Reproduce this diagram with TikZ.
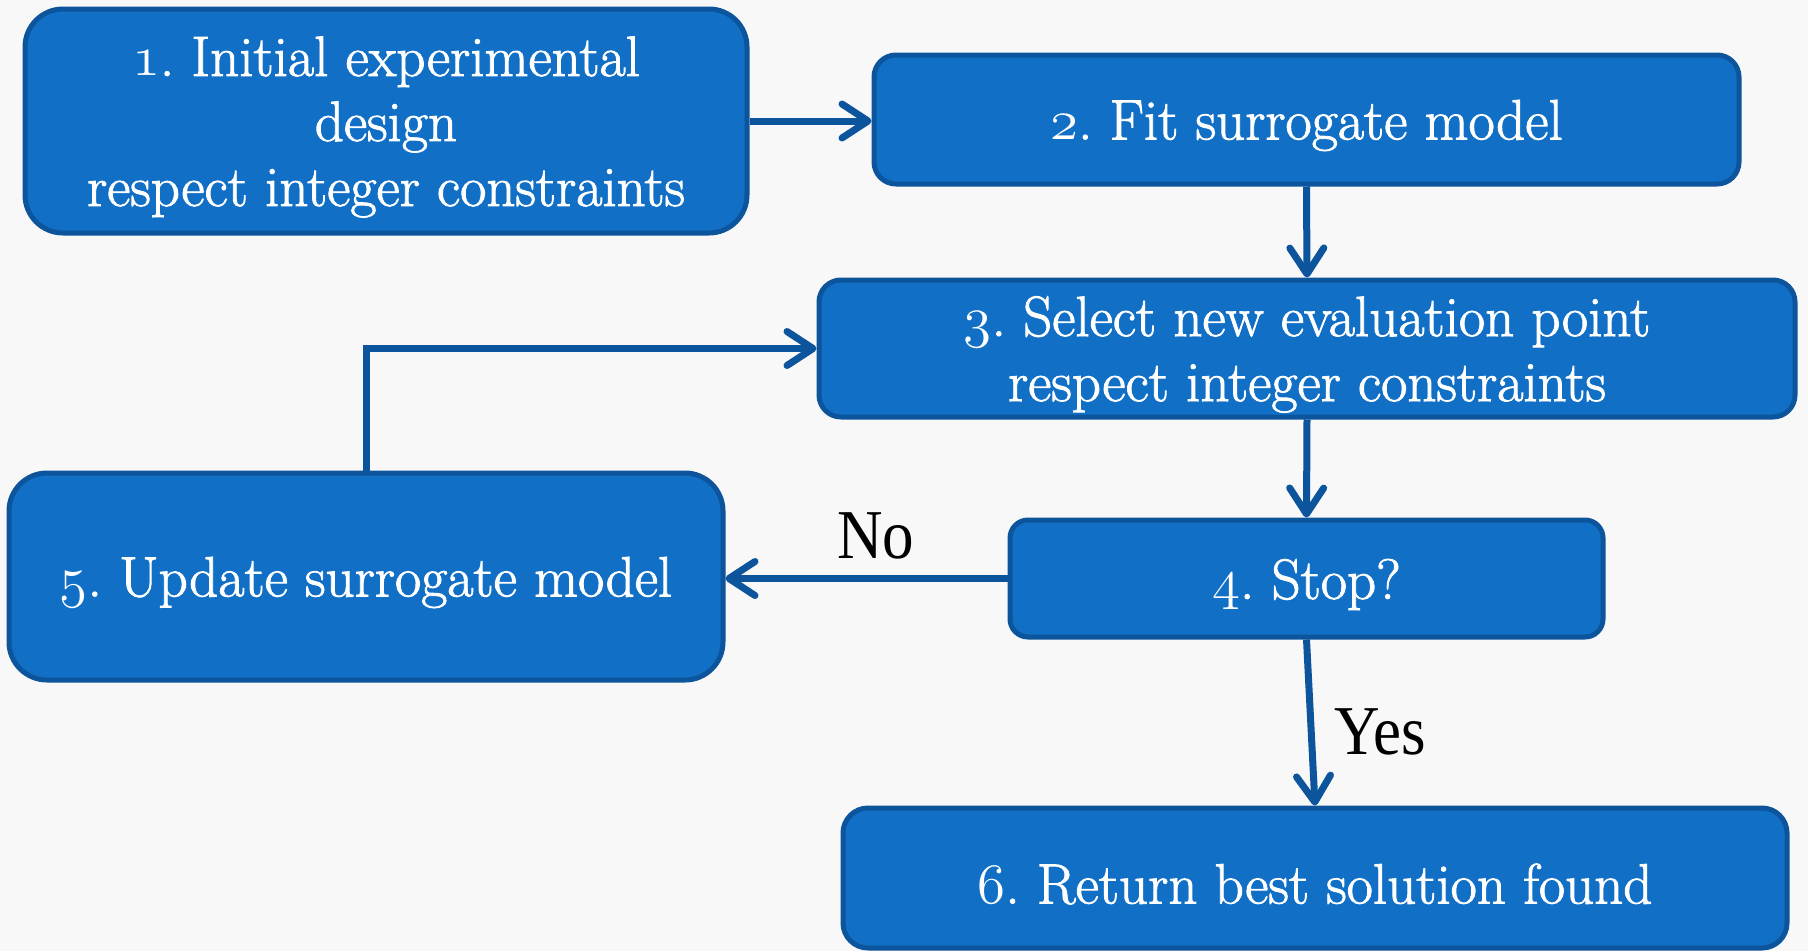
\documentclass[tikz,border=0pt]{standalone}
\usepackage{graphicx}
\usepackage{fontspec}
\setmainfont{Latin Modern Roman}[FakeBold=1.5]
\newfontfamily\lblfont{Liberation Serif}[FakeStretch=0.9]
\usetikzlibrary{arrows.meta}
\definecolor{boxfill}{HTML}{1170C6}
\definecolor{boxline}{HTML}{0C559C}
\definecolor{arrowcol}{HTML}{0C559C}
\definecolor{bgcol}{HTML}{F8F8F8}
\newcommand\osf[1]{\scalebox{3.3}{\usefont{OML}{lmm}{m}{it}\fontsize{17.28}{20}\selectfont #1}}
\tikzset{
  flowbox/.style={draw=boxline, fill=boxfill, line width=5pt, inner sep=0pt},
  boxtext/.style={text=white, align=center, inner sep=0pt, yshift=-6pt,
    font=\fontsize{57}{65}\selectfont\frenchspacing},
  flowarrow/.style={draw=arrowcol, line width=7pt,
    -{Straight Barb[length=26pt,width=34pt,line width=7pt,round]}},
  lbl/.style={font=\lblfont\fontsize{70}{70}\selectfont, text=black, inner sep=0pt}
}
\begin{document}
\begin{tikzpicture}[x=1pt,y=-1pt]
\fill[bgcol] (0,0) rectangle (1808,951);
\useasboundingbox (0,0) rectangle (1808,951);
\node[flowbox, rounded corners=38pt, minimum width=722pt, minimum height=224pt] (b1) at (386,121) {};
\node[flowbox, rounded corners=22pt, minimum width=865pt, minimum height=129pt] (b2) at (1306.5,119.5) {};
\node[flowbox, rounded corners=22pt, minimum width=976pt, minimum height=137pt] (b3) at (1307,348.5) {};
\node[flowbox, rounded corners=18pt, minimum width=593pt, minimum height=117pt] (b4) at (1306.5,578.5) {};
\node[flowbox, rounded corners=38pt, minimum width=714pt, minimum height=207pt] (b5) at (366,576.5) {};
\node[flowbox, rounded corners=25pt, minimum width=944pt, minimum height=140pt] (b6) at (1315,878) {};
\node[boxtext] (t1) at (b1.center) {\osf{1}. Initial experimental\\design\\respect integer constraints};
\node[boxtext] (t2) at (b2.center) {\osf{2}. Fit surrogate model};
\node[boxtext] (t3) at (b3.center) {\osf{3}. Select new evaluation point\\respect integer constraints};
\node[boxtext] (t4) at (b4.center) {\osf{4}. Stop?};
\node[boxtext] (t5) at (b5.center) {\osf{5}. Update surrogate model};
\node[boxtext] (t6) at (b6.center) {\osf{6}. Return best solution found};
\draw[flowarrow] (b1.east) -- (b1.east -| b2.west);
\draw[flowarrow] (b2.south) -- (b3.north);
\draw[flowarrow] (b3.south) -- (b4.north);
\draw[flowarrow] (b4.west) -- (b4.west -| b5.east);
\draw[flowarrow] (b4.south) -- (b6.north);
\draw[flowarrow] (b5.north) |- (b3.west);
\node[lbl] (no) at (876,536) {No};
\node[lbl] (yes) at (1380,732) {Yes};
\end{tikzpicture}
\end{document}
